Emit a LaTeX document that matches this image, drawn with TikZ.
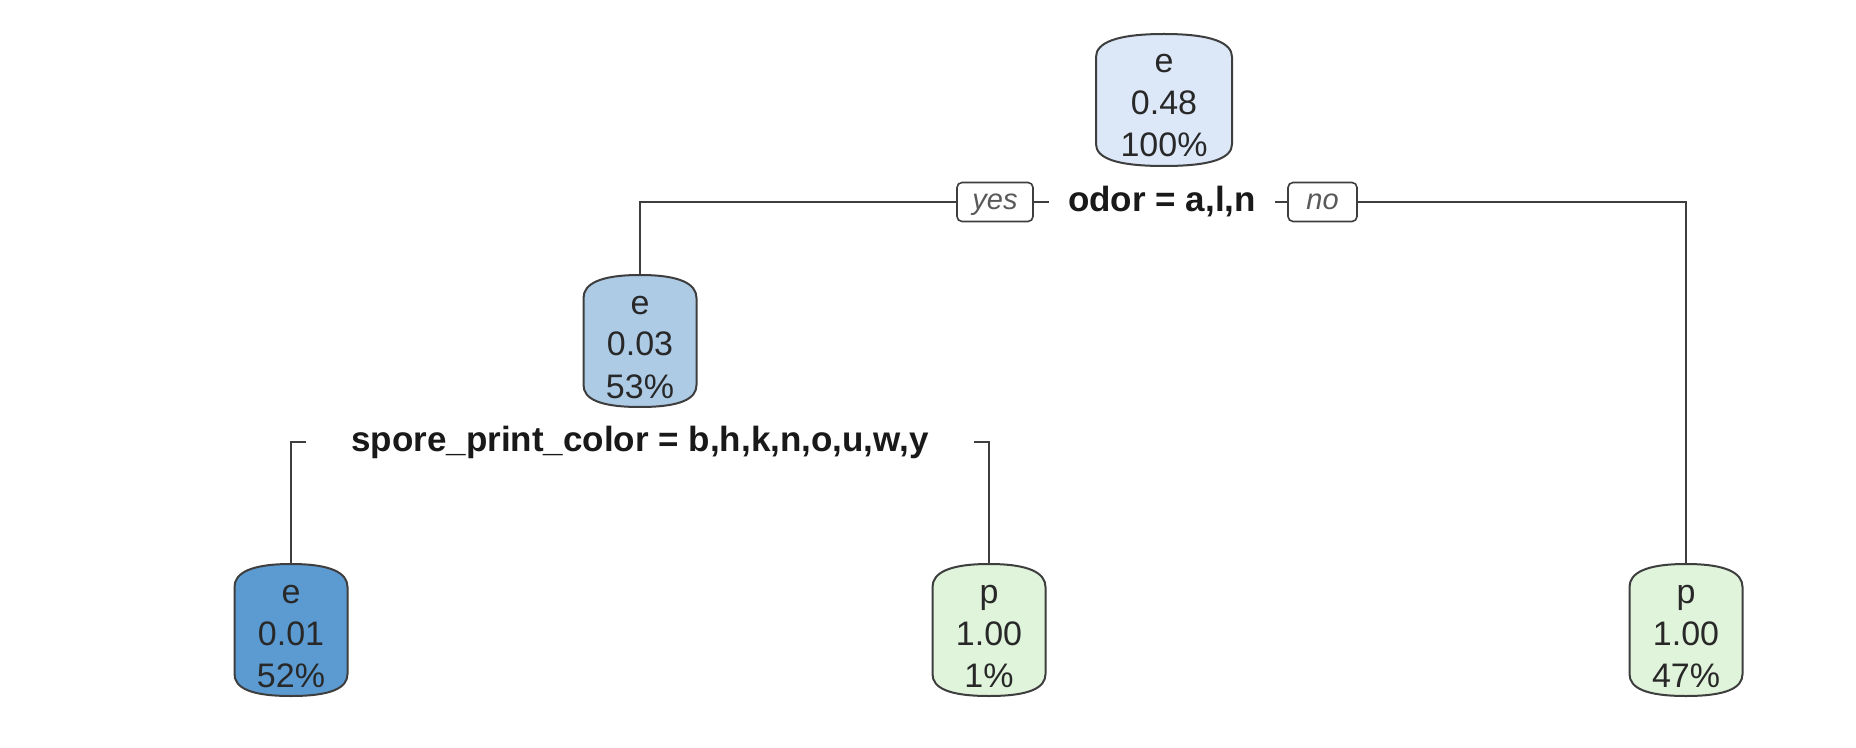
\documentclass[tikz,border=0pt]{standalone}
\usepackage{fontspec}
\setmainfont{Liberation Sans}
\usetikzlibrary{calc}
\definecolor{cA}{RGB}{220,232,247}
\definecolor{cB}{RGB}{174,203,230}
\definecolor{cC}{RGB}{92,155,209}
\definecolor{cG}{RGB}{224,243,219}
\definecolor{edgecol}{RGB}{62,62,62}
\definecolor{txtcol}{RGB}{40,40,40}
\newcommand{\cyltext}[3]{\begin{tabular}[b]{@{}c@{}}#1\\#2\\#3\end{tabular}}
\tikzset{
  cylbox/.style={
    shape=rectangle, minimum width=57.5pt, minimum height=67pt, inner sep=0pt,
    font=\fontsize{17pt}{21pt}\selectfont, text=txtcol,
    text height=60pt, text depth=3pt,
    path picture={
      \filldraw[fill=#1, draw=edgecol, line width=1pt]
        let \p1=(path picture bounding box.south west),
            \p2=(path picture bounding box.north east) in
        ({\x1+0.5pt},{\y1+11.5pt}) -- ({\x1+0.5pt},{\y2-12pt})
        .. controls ({\x1+0.5pt},{\y2-5pt}) and ({0.85*\x1+0.15*\x2},{\y2-0.5pt}) .. ({0.5*\x1+0.5*\x2},{\y2-0.5pt})
        .. controls ({0.15*\x1+0.85*\x2},{\y2-0.5pt}) and ({\x2-0.5pt},{\y2-5pt}) .. ({\x2-0.5pt},{\y2-12pt})
        -- ({\x2-0.5pt},{\y1+11.5pt})
        .. controls ({\x2-0.5pt},{\y1+4.5pt}) and ({0.15*\x1+0.85*\x2},{\y1+0.5pt}) .. ({0.5*\x1+0.5*\x2},{\y1+0.5pt})
        .. controls ({0.85*\x1+0.15*\x2},{\y1+0.5pt}) and ({\x1+0.5pt},{\y1+4.5pt}) .. ({\x1+0.5pt},{\y1+11.5pt}) -- cycle;
    }
  },
  splitlbl/.style={font=\bfseries\fontsize{17.5pt}{21pt}\selectfont, text=black!90,
    inner ysep=0pt, text height=12.5pt, text depth=3pt},
  yesno/.style={draw=edgecol, fill=white, rounded corners=2.5pt, line width=0.8pt,
    font=\itshape\fontsize{14.5pt}{17pt}\selectfont, text=black!65,
    inner sep=0pt, minimum height=19.5pt, text height=10pt, text depth=2pt},
  conn/.style={draw=edgecol, line width=1pt},
}
\begin{document}
\begin{tikzpicture}[x=0.5pt,y=-0.5pt]
\useasboundingbox (0,0) rectangle (1856,748);
\fill[white] (0,0) rectangle (1856,748);
% nodes
\node[cylbox=cA, minimum width=69pt] (root) at (1164,100) {\cyltext{e}{0.48}{100\%}};
\node[cylbox=cB] (n2) at (640,341) {\cyltext{e}{0.03}{53\%}};
\node[cylbox=cC] (l1) at (291,630) {\cyltext{e}{0.01}{52\%}};
\node[cylbox=cG] (l2) at (989,630) {\cyltext{p}{1.00}{1\%}};
\node[cylbox=cG] (l3) at (1686,630) {\cyltext{p}{1.00}{47\%}};
% split labels
\node[splitlbl, inner xsep=9.5pt] (s1) at (1162,202) {odor = a,l,n};
\node[splitlbl, inner xsep=22.5pt] (s2) at (640,442) {spore\_print\_color = b,h,k,n,o,u,w,y};
\node[yesno, minimum width=38pt] (yes) at (995,202) {yes};
\node[yesno, minimum width=34.5pt] (no) at (1322.5,202) {no};
% connectors
\draw[conn] (n2.north) |- (yes.west);
\draw[conn] (yes.east) -- (yes.east -| s1.west);
\draw[conn] (s1.east) -- (no.west);
\draw[conn] (no.east) -| (l3.north);
\draw[conn] (l1.north) |- (s2.west);
\draw[conn] (s2.east) -| (l2.north);
\end{tikzpicture}
\end{document}
